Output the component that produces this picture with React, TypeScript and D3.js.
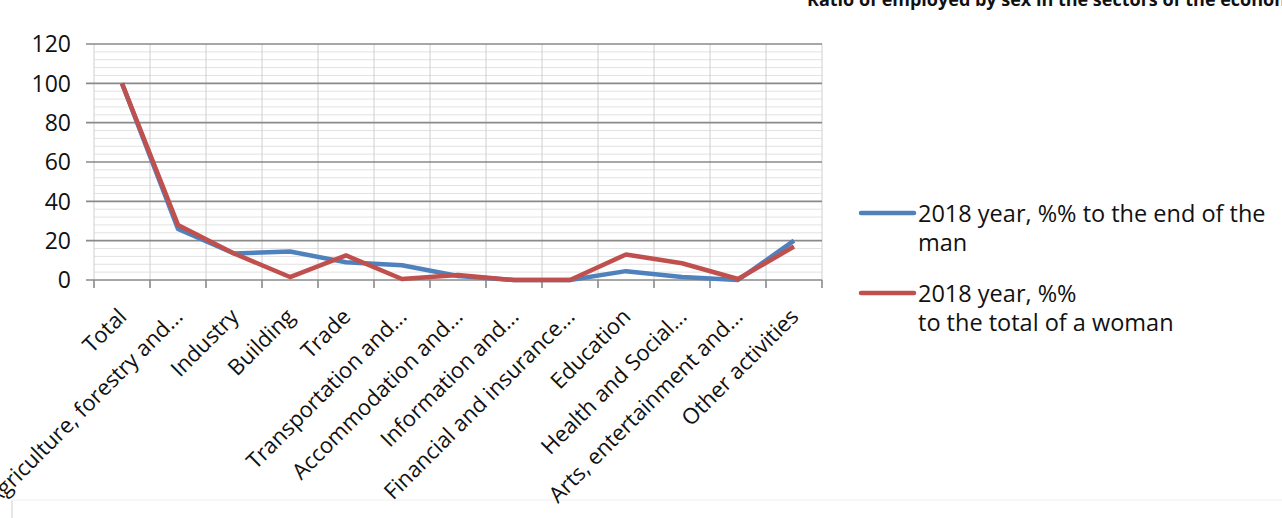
import React from "react";
import * as d3 from "d3";

const categories = [
  "Total",
  "Agriculture, forestry and...",
  "Industry",
  "Building",
  "Trade",
  "Transportation and...",
  "Accommodation and...",
  "Information and...",
  "Financial and insurance...",
  "Education",
  "Health and Social...",
  "Arts, entertainment and...",
  "Other activities",
];
const manValues = [100, 26, 13.5, 14.5, 9, 7.5, 2, 0, 0, 4.5, 1.5, 0, 20];
const womanValues = [100, 28, 13.5, 1.5, 12.5, 0.5, 2.5, 0, 0, 13, 8.5, 0.5, 17];
const yTicks = [0, 20, 40, 60, 80, 100, 120];
const legendLines = [
  ["2018 year, %% to the end of the", "man"],
  ["2018 year, %%", "to the total of a woman"],
];
const title = "Ratio of employed by sex in the sectors of the economy";

const W = 1282;
const H = 518;
const left = 94;
const right = 822;
const top = 44;
const bottom = 280;
const FONT = "'Open Sans', sans-serif";
const BLUE = "#4F81BD";
const RED = "#C0504D";

export default function App() {
  const x = d3.scaleBand<string>().domain(categories).range([left, right]);
  const y = d3.scaleLinear().domain([0, 120]).range([bottom, top]);
  const cx = (c: string) => (x(c) as number) + x.bandwidth() / 2;
  const line = d3
    .line<number>()
    .x((_, i) => cx(categories[i]))
    .y((v) => y(v));
  const minor = d3.range(0, 121, 4).filter((v) => v % 20 !== 0);
  const bounds = categories.map((c) => x(c) as number).concat([right]);
  const colors = [BLUE, RED];
  const legendY = [213, 293];

  return (
    <svg
      width={W}
      height={H}
      style={{ position: "absolute", left: 0, top: 0, background: "#fff" }}
      fontFamily={FONT}
    >
      <text x={807} y={6} fontSize={18} fontWeight="bold" fill="#111">
        {title}
      </text>
      <line x1={12} x2={12} y1={500} y2={H} stroke="#e6e6e6" strokeWidth={2} />
      <line x1={12} x2={W} y1={500} y2={500} stroke="#f0f0f0" strokeWidth={1} />
      {minor.map((v) => (
        <line key={"m" + v} x1={left} x2={right} y1={y(v)} y2={y(v)} stroke="#e2e2e2" strokeWidth={1} />
      ))}
      {bounds.map((b, i) => (
        <line key={"v" + i} x1={b} x2={b} y1={top} y2={bottom} stroke="#cfcfcf" strokeWidth={1} />
      ))}
      {yTicks.map((v) => (
        <g key={"y" + v}>
          <line x1={left - 8} x2={right} y1={y(v)} y2={y(v)} stroke="#8a8a8a" strokeWidth={1.6} />
          <text x={71} y={y(v)} dy="0.36em" textAnchor="end" fontSize={23} fill="#111">
            {v}
          </text>
        </g>
      ))}
      {bounds.map((b, i) => (
        <line key={"t" + i} x1={b} x2={b} y1={bottom} y2={bottom + 8} stroke="#8a8a8a" strokeWidth={1.6} />
      ))}
      {categories.map((c) => (
        <text
          key={c}
          transform={`translate(${cx(c) + 6},${bottom + 38}) rotate(-45)`}
          textAnchor="end"
          fontSize={22}
          fill="#111"
        >
          {c}
        </text>
      ))}
      <path d={line(manValues) || ""} fill="none" stroke={BLUE} strokeWidth={4.5} strokeLinejoin="round" />
      <path d={line(womanValues) || ""} fill="none" stroke={RED} strokeWidth={4.5} strokeLinejoin="round" />
      {legendLines.map((ls, i) => (
        <g key={"lg" + i}>
          <line x1={861} x2={914} y1={legendY[i]} y2={legendY[i]} stroke={colors[i]} strokeWidth={4.5} strokeLinecap="round" />
          {ls.map((t, j) => (
            <text key={j} x={918} y={legendY[i] + 9 + j * 29} fontSize={23.5} fill="#111">
              {t}
            </text>
          ))}
        </g>
      ))}
    </svg>
  );
}
